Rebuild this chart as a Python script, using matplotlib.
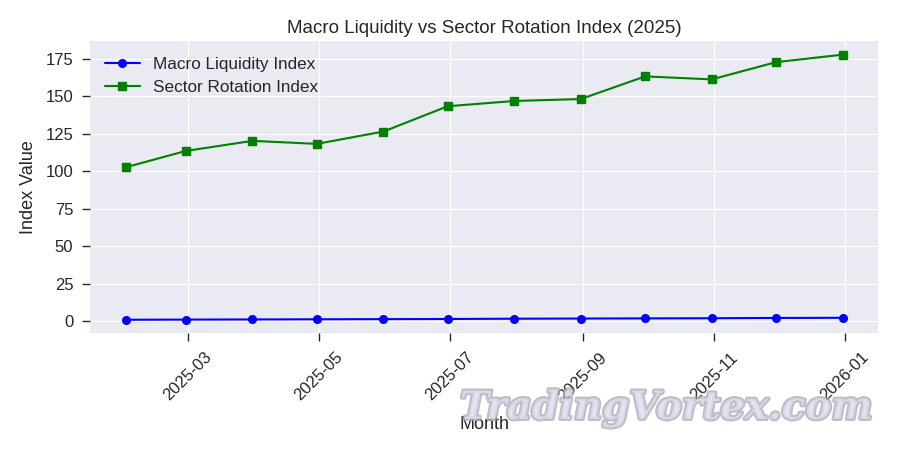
import matplotlib
matplotlib.use("Agg")
import matplotlib.pyplot as plt
import matplotlib.patheffects as pe
import pandas as pd

plt.style.use("seaborn-v0_8-darkgrid")
plt.rcParams["font.family"] = ["Liberation Sans", "DejaVu Sans"]

months = pd.date_range("2025-01-31", "2025-12-31", freq="ME")
macro_liquidity = [1.0, 1.1, 1.2, 1.3, 1.4, 1.5, 1.7, 1.8, 1.9, 2.0, 2.2, 2.3]
sector_rotation = [102.7, 113.6, 120.3, 118.3, 126.5, 143.4, 146.9, 148.2, 163.3, 161.3, 172.8, 177.8]

fig, ax = plt.subplots(figsize=(9, 4.5), dpi=100)
fig.subplots_adjust(left=0.1, right=0.976, top=0.908, bottom=0.26)
ax.plot(months, macro_liquidity, color="blue", marker="o", markersize=5.5, linewidth=1.5,
        label="Macro Liquidity Index")
ax.plot(months, sector_rotation, color="green", marker="s", markersize=5.5, linewidth=1.5,
        label="Sector Rotation Index")
ax.set_title("Macro Liquidity vs Sector Rotation Index (2025)", fontsize=13.5)
ax.set_xlabel("Month", fontsize=13, labelpad=9)
ax.set_ylabel("Index Value", fontsize=13, labelpad=6)
ax.legend(fontsize=12.3, loc="upper left")
ax.tick_params(axis="both", labelsize=12, length=6, width=1, pad=6, color="#262626", direction="out")
plt.setp(ax.get_xticklabels(), rotation=45)

fig.text(0.74, 0.093, "TradingVortex.com", fontsize=28, family="DejaVu Serif",
         style="italic", weight="bold", ha="center", va="center",
         color="#e6e2f2", alpha=0.75, zorder=0,
         path_effects=[pe.withStroke(linewidth=3, foreground="#a8a8b4")])

fig.savefig("out.png", dpi=100)
